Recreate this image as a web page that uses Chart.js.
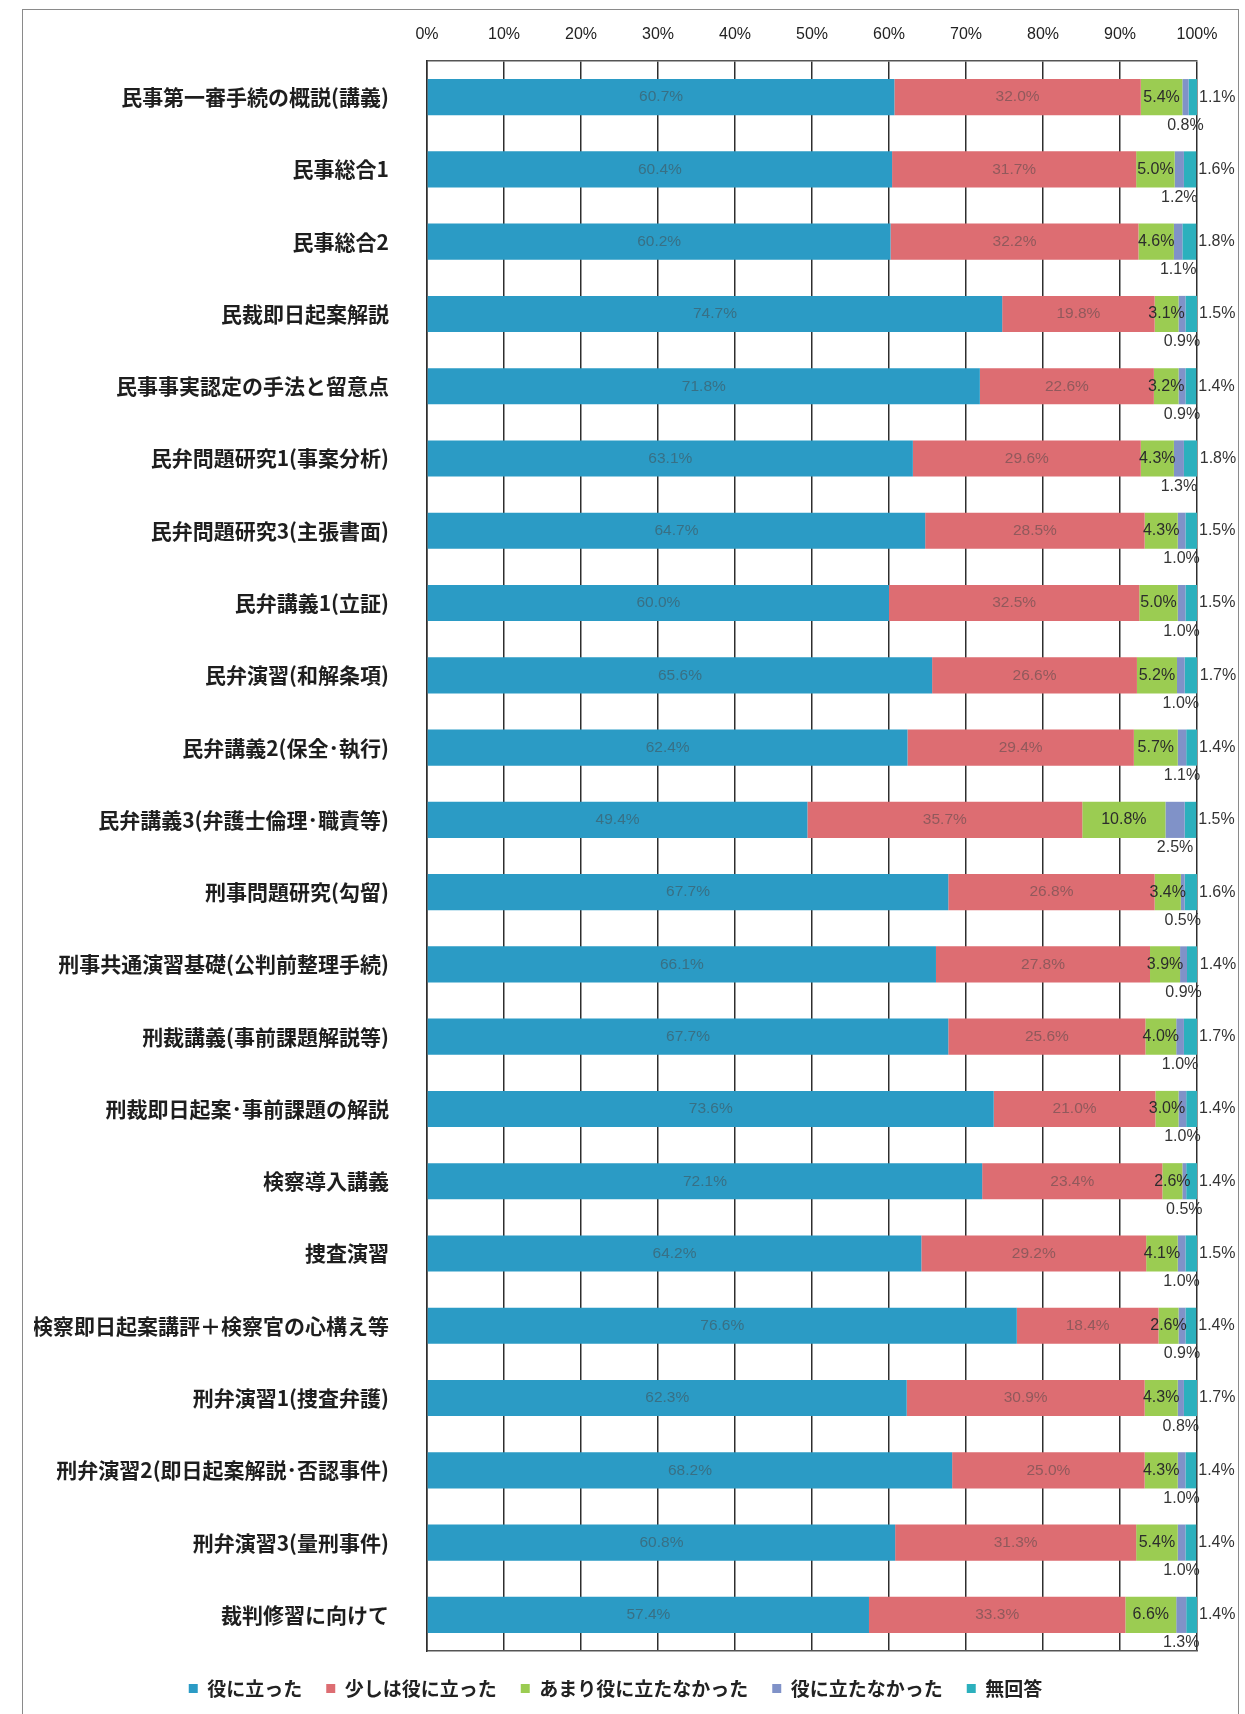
<!DOCTYPE html>
<html lang="ja">
<head>
<meta charset="utf-8">
<title>研修アンケート</title>
<script src="https://cdn.jsdelivr.net/npm/chart.js@4.4.1/dist/chart.umd.min.js"></script>
<style>
  html, body { margin: 0; padding: 0; background: #fff; }
  #wrap { position: relative; width: 1245px; height: 1714px; overflow: hidden; }
  #frame { position: absolute; left: 22px; top: 9px; width: 1215px; height: 1720px; border: 1.5px solid #8a8a8a; }
  #chart { position: absolute; left: 0; top: 0; }
</style>
</head>
<body>
<div id="wrap">
  <div id="frame"></div>
  <canvas id="chart" width="1245" height="1714"></canvas>
</div>
<script>
// categories (top to bottom)
const courses = [
  '民事第一審手続の概説(講義)',
  '民事総合1',
  '民事総合2',
  '民裁即日起案解説',
  '民事事実認定の手法と留意点',
  '民弁問題研究1(事案分析)',
  '民弁問題研究3(主張書面)',
  '民弁講義1(立証)',
  '民弁演習(和解条項)',
  '民弁講義2(保全･執行)',
  '民弁講義3(弁護士倫理･職責等)',
  '刑事問題研究(勾留)',
  '刑事共通演習基礎(公判前整理手続)',
  '刑裁講義(事前課題解説等)',
  '刑裁即日起案･事前課題の解説',
  '検察導入講義',
  '捜査演習',
  '検察即日起案講評＋検察官の心構え等',
  '刑弁演習1(捜査弁護)',
  '刑弁演習2(即日起案解説･否認事件)',
  '刑弁演習3(量刑事件)',
  '裁判修習に向けて'
];

// series (%)
const useful     = [60.7, 60.4, 60.2, 74.7, 71.8, 63.1, 64.7, 60.0, 65.6, 62.4, 49.4, 67.7, 66.1, 67.7, 73.6, 72.1, 64.2, 76.6, 62.3, 68.2, 60.8, 57.4];
const somewhat   = [32.0, 31.7, 32.2, 19.8, 22.6, 29.6, 28.5, 32.5, 26.6, 29.4, 35.7, 26.8, 27.8, 25.6, 21.0, 23.4, 29.2, 18.4, 30.9, 25.0, 31.3, 33.3];
const notMuch    = [5.4, 5.0, 4.6, 3.1, 3.2, 4.3, 4.3, 5.0, 5.2, 5.7, 10.8, 3.4, 3.9, 4.0, 3.0, 2.6, 4.1, 2.6, 4.3, 4.3, 5.4, 6.6];
const notUseful  = [0.8, 1.2, 1.1, 0.9, 0.9, 1.3, 1.0, 1.0, 1.0, 1.1, 2.5, 0.5, 0.9, 1.0, 1.0, 0.5, 1.0, 0.9, 0.8, 1.0, 1.0, 1.3];
const noAnswer   = [1.1, 1.6, 1.8, 1.5, 1.4, 1.8, 1.5, 1.5, 1.7, 1.4, 1.5, 1.6, 1.4, 1.7, 1.4, 1.4, 1.5, 1.4, 1.7, 1.4, 1.4, 1.4];

const seriesNames = ['役に立った', '少しは役に立った', 'あまり役に立たなかった', '役に立たなかった', '無回答'];
const seriesColors = ['#2b9bc5', '#dd6d72', '#9bcc52', '#8092c8', '#2cb0bd'];
// where each series puts its value label
const labelModes = ['center-faded', 'center-faded', 'center', 'below', 'right'];

const jpFont = '"Noto Sans CJK JP", "Noto Sans", sans-serif';
const numFont = '"Liberation Sans", "DejaVu Sans", sans-serif';

const valueLabels = {
  id: 'valueLabels',
  afterDatasetsDraw(chart) {
    const ctx = chart.ctx;
    ctx.save();
    chart.data.datasets.forEach((ds, i) => {
      const meta = chart.getDatasetMeta(i);
      const mode = labelModes[i];
      meta.data.forEach((bar, j) => {
        const p = bar.getProps(['x', 'y', 'base', 'height'], true);
        const txt = ds.data[j].toFixed(1) + '%';
        const mid = (p.x + p.base) / 2;
        ctx.textBaseline = 'middle';
        if (mode === 'center-faded') {
          ctx.font = '15.5px ' + numFont;
          ctx.fillStyle = 'rgba(70,70,70,0.5)';
          ctx.textAlign = 'center';
          ctx.fillText(txt, mid, p.y);
        } else if (mode === 'center') {
          ctx.font = '16px ' + numFont;
          ctx.fillStyle = '#2c2c2c';
          ctx.textAlign = 'center';
          ctx.fillText(txt, mid, p.y);
        } else if (mode === 'below') {
          ctx.font = '16px ' + numFont;
          ctx.fillStyle = '#333';
          ctx.textAlign = 'center';
          ctx.fillText(txt, mid, p.y + p.height / 2 + 10);
        } else {
          ctx.font = '16px ' + numFont;
          ctx.fillStyle = '#333';
          ctx.textAlign = 'left';
          ctx.fillText(txt, Math.max(p.x, p.base) + 2, p.y);
        }
      });
    });
    ctx.restore();
  }
};

const seriesData = [useful, somewhat, notMuch, notUseful, noAnswer];

new Chart(document.getElementById('chart'), {
  type: 'bar',
  data: {
    labels: courses,
    datasets: seriesData.map((d, i) => ({
      label: seriesNames[i],
      data: d,
      backgroundColor: seriesColors[i],
      borderWidth: 0,
      barPercentage: 0.5,
      categoryPercentage: 1.0
    }))
  },
  options: {
    indexAxis: 'y',
    responsive: false,
    animation: false,
    layout: { padding: { left: 34, right: 48, top: 0, bottom: 6 } },
    scales: {
      x: {
        position: 'top',
        stacked: true,
        min: 0,
        max: 100,
        afterFit(scale) { scale.height = 61; },
        ticks: {
          stepSize: 10,
          padding: 17,
          color: '#222',
          font: { family: numFont, size: 16 },
          callback: v => v + '%'
        },
        grid: { color: '#2e2e2e', lineWidth: 1.5, drawTicks: false },
        border: { display: true, color: '#555', width: 1.5 }
      },
      x2: {
        type: 'linear',
        position: 'bottom',
        min: 0,
        max: 100,
        afterFit(scale) { scale.height = 4; },
        ticks: { display: false },
        grid: { display: false, drawTicks: false },
        border: { display: true, color: '#555', width: 1.5 }
      },
      y: {
        stacked: true,
        afterFit(scale) { scale.width = 393; },
        ticks: {
          padding: 30,
          color: '#1e1e1e',
          font: { family: jpFont, size: 21, weight: 'bold' }
        },
        grid: { display: false },
        border: { display: true, color: '#2e2e2e', width: 1.5 }
      }
    },
    plugins: {
      legend: {
        position: 'bottom',
        labels: {
          boxWidth: 9,
          boxHeight: 9,
          padding: 24,
          color: '#222',
          font: { family: jpFont, size: 19, weight: 'bold' }
        }
      },
      tooltip: { enabled: false }
    }
  },
  plugins: [valueLabels]
});
</script>
</body>
</html>
